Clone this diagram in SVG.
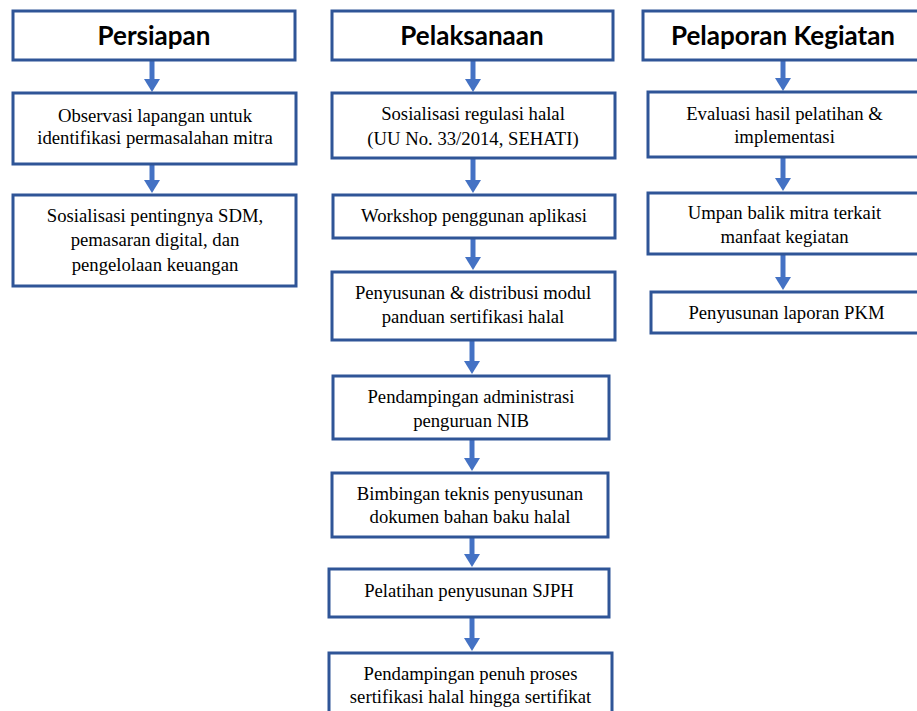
<svg xmlns="http://www.w3.org/2000/svg" width="917" height="711" viewBox="0 0 917 711">
<defs>
<style>
.box{fill:#ffffff;stroke:#2F5597;stroke-width:3}
.hd{font-family:Lato,'Open Sans',sans-serif;font-weight:bold;font-size:26px;fill:#000000;text-anchor:middle}
.tx{font-family:'Liberation Serif','DejaVu Serif',serif;font-size:18.7px;fill:#000000;text-anchor:middle}
.con line{stroke:#4472C4;stroke-width:5;marker-end:url(#ah)}
</style>
<marker id="ah" markerUnits="userSpaceOnUse" markerWidth="14" markerHeight="16" refX="3" refY="8" orient="auto">
<path d="M0,0 L13,8 L0,16 Z" fill="#4472C4"/>
</marker>
</defs>
<rect width="917" height="711" fill="#ffffff"/>

<g class="con">
<line x1="152" y1="60" x2="152" y2="82"/>
<line x1="152" y1="164" x2="152" y2="183"/>
<line x1="473" y1="60" x2="473" y2="82"/>
<line x1="473" y1="158" x2="473" y2="183"/>
<line x1="473" y1="238" x2="473" y2="260"/>
<line x1="472" y1="340" x2="472" y2="364"/>
<line x1="472" y1="439" x2="472" y2="461"/>
<line x1="472" y1="537" x2="472" y2="557"/>
<line x1="472" y1="617" x2="472" y2="641"/>
<line x1="783" y1="60" x2="783" y2="81"/>
<line x1="783" y1="157" x2="783" y2="181"/>
<line x1="783" y1="254" x2="783" y2="280"/>
</g>

<g id="persiapan">
<rect class="box" x="13" y="11" width="282" height="49"/>
<text class="hd" x="154" y="45">Persiapan</text>
</g>
<g id="observasi">
<rect class="box" x="13" y="93" width="283" height="71"/>
<text class="tx" x="155" y="122">Observasi lapangan untuk</text>
<text class="tx" x="155" y="144">identifikasi permasalahan mitra</text>
</g>
<g id="sosialisasi-sdm">
<rect class="box" x="13" y="195" width="283" height="91"/>
<text class="tx" x="155" y="222">Sosialisasi pentingnya SDM,</text>
<text class="tx" x="155" y="246">pemasaran digital, dan</text>
<text class="tx" x="155" y="271">pengelolaan keuangan</text>
</g>

<g id="pelaksanaan">
<rect class="box" x="332" y="11" width="281" height="49"/>
<text class="hd" x="472" y="45">Pelaksanaan</text>
</g>
<g id="sosialisasi-regulasi">
<rect class="box" x="332" y="93" width="283" height="65"/>
<text class="tx" x="473" y="120">Sosialisasi regulasi halal</text>
<text class="tx" x="473" y="145">(UU No. 33/2014, SEHATI)</text>
</g>
<g id="workshop">
<rect class="box" x="333" y="195" width="282" height="43"/>
<text class="tx" x="474" y="222">Workshop penggunan aplikasi</text>
</g>
<g id="penyusunan-modul">
<rect class="box" x="332" y="272" width="283" height="68"/>
<text class="tx" x="473" y="299">Penyusunan &amp; distribusi modul</text>
<text class="tx" x="473" y="323">panduan sertifikasi halal</text>
</g>
<g id="pendampingan-nib">
<rect class="box" x="333" y="376" width="276" height="63"/>
<text class="tx" x="471" y="403">Pendampingan administrasi</text>
<text class="tx" x="471" y="427">penguruan NIB</text>
</g>
<g id="bimbingan">
<rect class="box" x="332" y="473" width="276" height="64"/>
<text class="tx" x="470" y="500">Bimbingan teknis penyusunan</text>
<text class="tx" x="470" y="523">dokumen bahan baku halal</text>
</g>
<g id="pelatihan-sjph">
<rect class="box" x="329" y="569" width="280" height="48"/>
<text class="tx" x="469" y="597">Pelatihan penyusunan SJPH</text>
</g>
<g id="pendampingan-penuh">
<rect class="box" x="329" y="653" width="283" height="70"/>
<text class="tx" x="470.5" y="680">Pendampingan penuh proses</text>
<text class="tx" x="470.5" y="703">sertifikasi halal hingga sertifikat</text>
</g>

<g id="pelaporan">
<rect class="box" x="643" y="11" width="285" height="49"/>
<text class="hd" x="783" y="45">Pelaporan Kegiatan</text>
</g>
<g id="evaluasi">
<rect class="box" x="648" y="92" width="280" height="65"/>
<text class="tx" x="784.5" y="120">Evaluasi hasil pelatihan &amp;</text>
<text class="tx" x="784.5" y="143">implementasi</text>
</g>
<g id="umpan-balik">
<rect class="box" x="648" y="193" width="280" height="61"/>
<text class="tx" x="784.5" y="219">Umpan balik mitra terkait</text>
<text class="tx" x="784.5" y="243">manfaat kegiatan</text>
</g>
<g id="laporan">
<rect class="box" x="651" y="292" width="277" height="41"/>
<text class="tx" x="786.5" y="319">Penyusunan laporan PKM</text>
</g>
</svg>
